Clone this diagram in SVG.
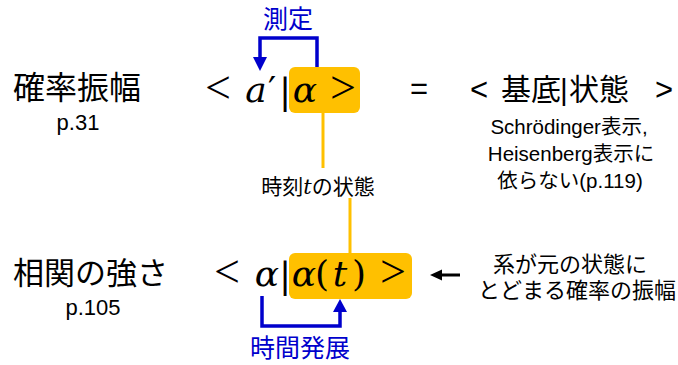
<svg xmlns="http://www.w3.org/2000/svg" width="678" height="365" viewBox="0 0 678 365">
<style>
.jp{font-family:"Liberation Sans","Noto Sans CJK JP",sans-serif;fill:#000}
.big{font-size:32px}
.pg{font-size:22px;text-anchor:middle}
.sm{font-size:20.5px;text-anchor:middle}
.md{font-size:22px;text-anchor:middle}
.blue{fill:#0000CC;font-size:25px;text-anchor:middle}
.m{font-family:"DejaVu Serif","Liberation Serif",serif;font-size:36px;text-anchor:middle;fill:#000}
.mi{font-style:italic}
.op{font-family:"Liberation Serif",serif;font-size:46px;text-anchor:middle;fill:#000}
.box{fill:#FFC000}
.bl{fill:none;stroke:#0000CC;stroke-width:3.5}
.or{fill:none;stroke:#FFC000;stroke-width:3}
</style>

<g id="connectors">
<path class="or" d="M323,112 V168"/>
<path class="or" d="M350,198 V254"/>
<path class="bl" d="M317,67 V38 H260 V58"/>
<path d="M253,57 L267,57 L260,71 z" fill="#0000CC"/>
<path class="bl" d="M262,296 V326 H340 V311"/>
<path d="M333,312 L347,312 L340,299 z" fill="#0000CC"/>
<path d="M460,275 H440" stroke="#000" stroke-width="3"/>
<path d="M430,275 L442,269.5 L442,280.5 z" fill="#000"/>
</g>

<g id="label-kakuritsu">
<text class="jp big" x="13" y="99">確率振幅</text>
<text class="jp pg" x="78" y="130">p.31</text>
</g>

<g id="formula-top">
<rect class="box" x="289" y="67" width="71" height="46" rx="6"/>
<text class="op" x="218" y="103">&lt;</text>
<text class="m mi" x="256" y="102">a</text>
<text class="m" x="272" y="102">′</text>
<text class="m" x="285" y="104">|</text>
<text class="m mi" x="305" y="102">α</text>
<text class="op" x="343" y="103">&gt;</text>
</g>

<g id="label-sokutei">
<text class="jp blue" x="288" y="28">測定</text>
</g>

<g id="label-eq">
<text class="jp" x="419" y="99" font-size="31" text-anchor="middle">=</text>
</g>

<g id="formula-right">
<text class="jp" font-size="31" x="479" y="100" text-anchor="middle">&lt;</text>
<text class="jp" font-size="30" x="501" y="100">基底</text>
<text class="jp" font-size="30" x="564" y="100" text-anchor="middle">|</text>
<text class="jp" font-size="30" x="569" y="100">状態</text>
<text class="jp" font-size="31" x="664" y="100" text-anchor="middle">&gt;</text>
</g>

<g id="note-right">
<text class="jp sm" x="569" y="134">Schrödinger表示,</text>
<text class="jp sm" x="571" y="161">Heisenberg表示に</text>
<text class="jp sm" x="570" y="188">依らない(p.119)</text>
</g>

<g id="label-jikoku">
<text class="jp" x="318" y="194" font-size="21" text-anchor="middle">時刻<tspan font-family="DejaVu Serif,serif" font-style="italic">t</tspan>の状態</text>
</g>

<g id="label-soukan">
<text class="jp" font-size="31" x="13" y="284">相関の強さ</text>
<text class="jp pg" x="93" y="315">p.105</text>
</g>

<g id="formula-bottom">
<rect class="box" x="289" y="253" width="123" height="46" rx="6"/>
<text class="op" x="227" y="287">&lt;</text>
<text class="m mi" x="267" y="286">α</text>
<text class="m" x="285" y="288">|</text>
<text class="m mi" x="304" y="286">α</text>
<text class="m" x="322" y="286">(</text>
<text class="m mi" x="340" y="286">t</text>
<text class="m" x="359" y="286">)</text>
<text class="op" x="393" y="287">&gt;</text>
</g>

<g id="label-jikan">
<text class="jp blue" x="300" y="357">時間発展</text>
</g>

<g id="note-bottom">
<text class="jp md" x="570" y="272">系が元の状態に</text>
<text class="jp md" x="577" y="298">とどまる確率の振幅</text>
</g>
</svg>
